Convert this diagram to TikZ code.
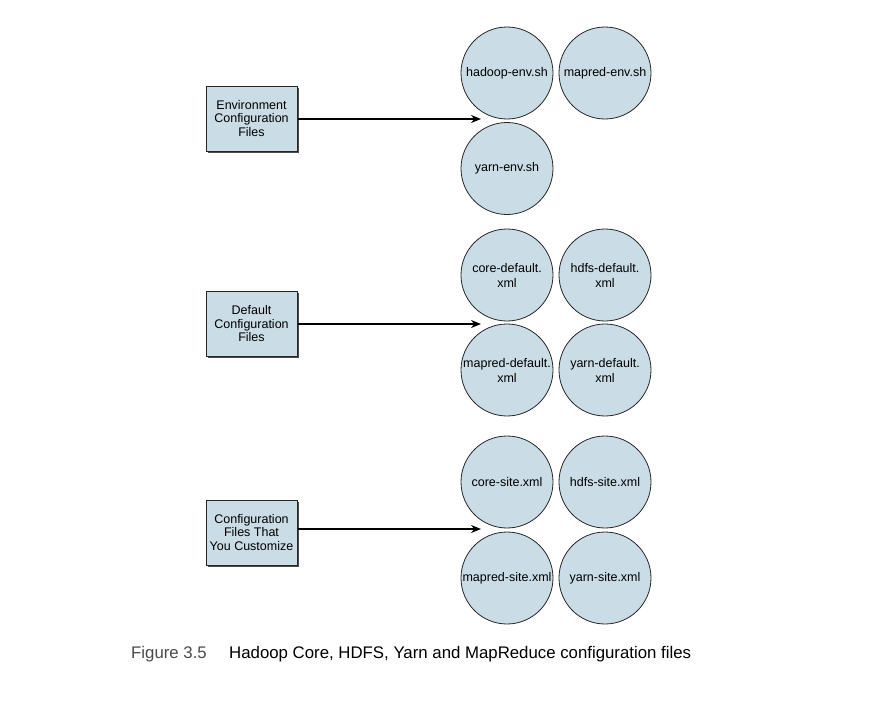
\documentclass[tikz,border=0pt]{standalone}
\usepackage{fontspec}
\setmainfont{Liberation Sans}
\usetikzlibrary{shadows,arrows.meta}
\definecolor{fillblue}{HTML}{CADCE5}
\definecolor{capgray}{HTML}{4A4A4A}
\begin{document}
\begin{tikzpicture}[x=1pt,y=-1pt,
  groupbox/.style={draw=black!85, line width=1pt, fill=fillblue, minimum width=91pt, minimum height=65pt,
    inner sep=0pt, align=center, font=\fontsize{12.5}{13.5}\selectfont,
    drop shadow={shadow xshift=1.8pt, shadow yshift=-1.8pt, opacity=0.7, fill=black}},
  filecirc/.style={circle, draw=black!85, line width=0.8pt, fill=fillblue, minimum size=92pt, inner sep=0pt,
    align=center, font=\fontsize{12.5}{15}\selectfont},
  conn/.style={line width=1.2pt, -{Stealth[length=10pt,width=8pt]}}]
\useasboundingbox (0,0) rectangle (872,702);
% group 1
\node[groupbox] (b1) at (251.5,118.5) {Environment\\Configuration\\Files};
\node[filecirc] (c11) at (507,73) {hadoop-env.sh};
\node[filecirc] (c12) at (605,73) {mapred-env.sh};
\node[filecirc] (c13) at (507,168.5) {yarn-env.sh};
\coordinate (t1) at (481,119);
\draw[conn] (b1.east |- t1) -- (t1);
% group 2
\node[groupbox] (b2) at (251.5,324) {Default\\Configuration\\Files};
\node[filecirc] (c21) at (507,275) {core-default.\\xml};
\node[filecirc] (c22) at (605,275) {hdfs-default.\\xml};
\node[filecirc] (c23) at (507,370) {mapred-default.\\xml};
\node[filecirc] (c24) at (605,370) {yarn-default.\\xml};
\coordinate (t2) at (481,324);
\draw[conn] (b2.east |- t2) -- (t2);
% group 3
\node[groupbox] (b3) at (251.5,532.5) {Configuration\\Files That\\You Customize};
\node[filecirc] (c31) at (507,482) {core-site.xml};
\node[filecirc] (c32) at (605,482) {hdfs-site.xml};
\node[filecirc] (c33) at (507,578) {mapred-site.xml};
\node[filecirc] (c34) at (605,578) {yarn-site.xml};
\coordinate (t3) at (481,529);
\draw[conn] (b3.east |- t3) -- (t3);
% caption
\node[anchor=base west, inner sep=0pt, font=\fontsize{16.8}{19}\selectfont, text=capgray] (fig) at (131,658) {Figure 3.5};
\node[anchor=base west, inner sep=0pt, font=\fontsize{16.8}{19}\selectfont, text=black] (cap) at (229,658) {Hadoop Core, HDFS, Yarn and MapReduce configuration files};
\end{tikzpicture}
\end{document}
